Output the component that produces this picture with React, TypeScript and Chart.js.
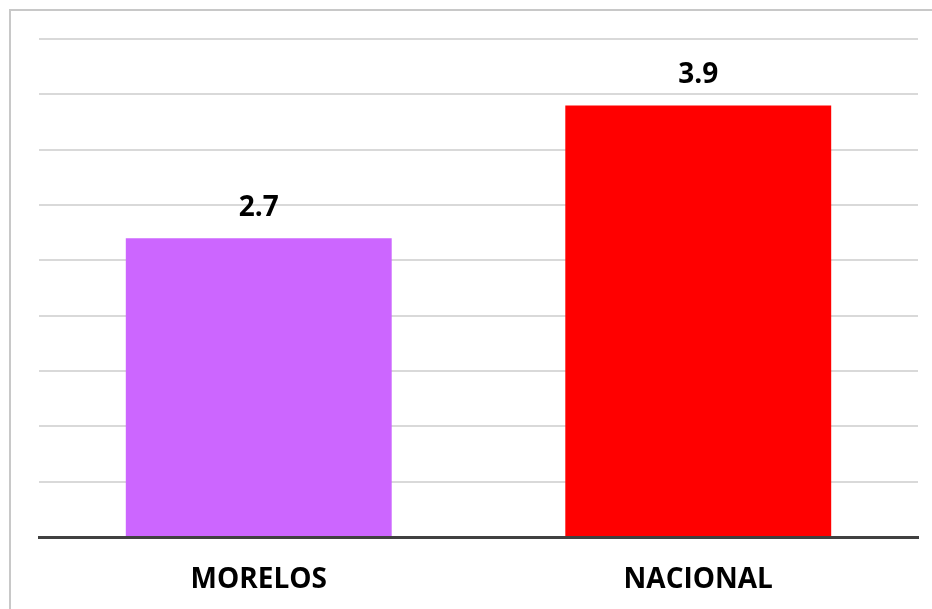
import React, { useEffect, useRef } from "react";
import { Chart, registerables } from "chart.js";

Chart.register(...registerables);

const categories = ["MORELOS", "NACIONAL"];
const values = [2.7, 3.9];
const barColors = ["#cc66ff", "#ff0000"];
const yMax = 4.5;
const yStep = 0.5;

const FONT = "'Open Sans', 'Liberation Sans', sans-serif";

const frame = {
  id: "frame",
  beforeDraw(chart: any) {
    const ctx = chart.ctx;
    ctx.save();
    ctx.fillStyle = "#c8c8c8";
    ctx.fillRect(9, 9, chart.width - 9, 2);
    ctx.fillRect(9, 9, 2, chart.height - 9);
    ctx.restore();
  },
};

const valueLabels = {
  id: "valueLabels",
  afterDatasetsDraw(chart: any) {
    const ctx = chart.ctx;
    const meta = chart.getDatasetMeta(0);
    ctx.save();
    ctx.font = `bold 28px ${FONT}`;
    ctx.fillStyle = "#000000";
    ctx.textAlign = "center";
    ctx.textBaseline = "middle";
    meta.data.forEach((bar: any, i: number) => {
      const v = chart.data.datasets[0].data[i];
      ctx.fillText(v.toFixed(1), bar.x, bar.y - 30);
    });
    ctx.restore();
  },
};

export default function App() {
  const ref = useRef<HTMLCanvasElement | null>(null);
  useEffect(() => {
    if (!ref.current) return;
    const chart = new Chart(ref.current, {
      type: "bar",
      data: {
        labels: categories,
        datasets: [
          {
            data: values,
            backgroundColor: barColors,
            borderWidth: 0,
            categoryPercentage: 1,
            barPercentage: 0.605,
          },
        ],
      },
      options: {
        animation: false,
        responsive: false,
        maintainAspectRatio: false,
        layout: { padding: { left: 39, right: 14, top: 39, bottom: 0 } },
        plugins: { legend: { display: false }, tooltip: { enabled: false } },
        scales: {
          x: {
            grid: { display: false, drawTicks: false },
            border: { display: true, color: "#404040", width: 3 },
            ticks: {
              color: "#000000",
              font: { family: FONT, size: 28, weight: "bold" },
              padding: 26,
            },
            afterFit(scale: any) {
              scale.height = 72;
            },
          },
          y: {
            min: 0,
            max: yMax,
            ticks: { display: false, stepSize: yStep },
            grid: { color: "#d9d9d9", lineWidth: 2, drawTicks: false },
            border: { display: false },
            afterFit(scale: any) {
              scale.width = 0;
            },
          },
        },
      },
      plugins: [frame, valueLabels],
    });
    return () => chart.destroy();
  }, []);

  return (
    <canvas
      ref={ref}
      width={932}
      height={609}
      style={{ position: "fixed", left: 0, top: 0, width: 932, height: 609, display: "block" }}
    />
  );
}
